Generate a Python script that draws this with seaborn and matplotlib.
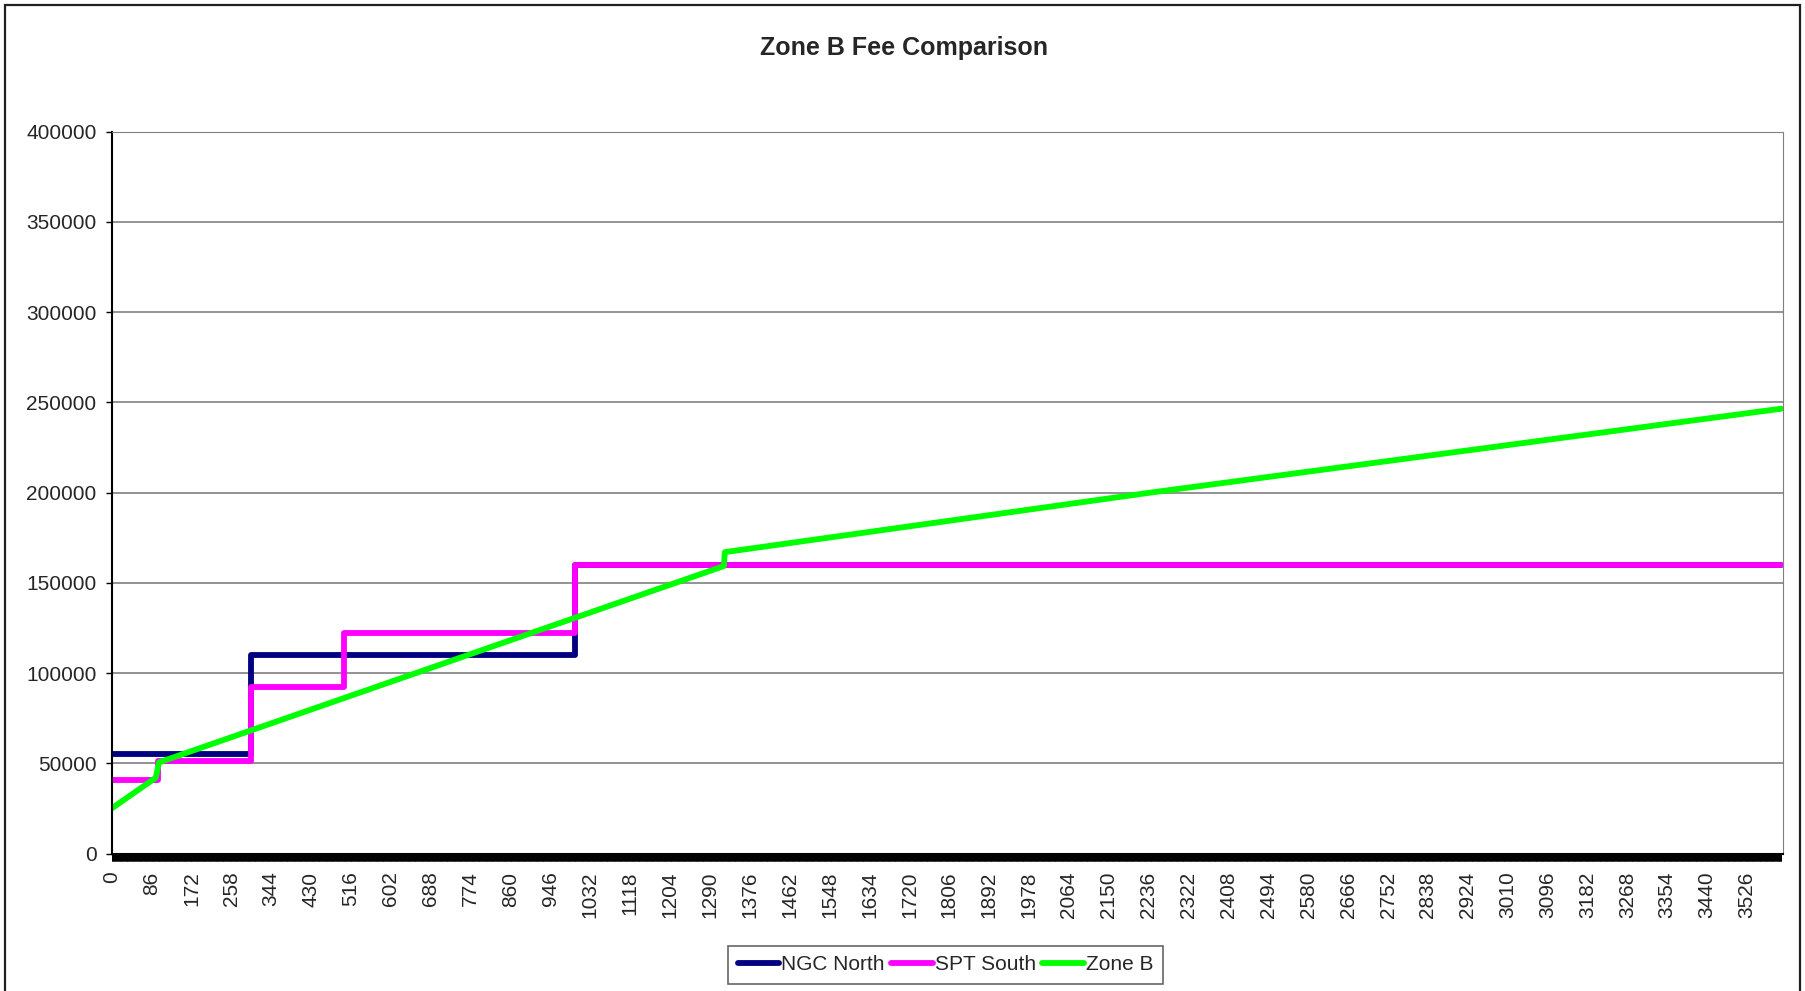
import numpy as np
import pandas as pd
import matplotlib
matplotlib.use('Agg')
import matplotlib.pyplot as plt
import matplotlib.ticker as mticker
from matplotlib.patches import Rectangle
import seaborn as sns

# Breakpoints (fee vs. size)
ngc_x = [0, 300, 1000, 3600]
ngc_y = [55000, 110000, 160000, 160000]

spt_x = [0, 100, 300, 500, 1000, 3600]
spt_y = [41000, 51000, 92000, 122000, 160000, 160000]

zone_x = [0, 95, 102, 1320, 1322, 2240, 3600]
zone_y = [25000, 42000, 50500, 159300, 167000, 200000, 246500]

x_labels = list(range(0, 3527, 86))
y_ticks = [0, 50000, 100000, 150000, 200000, 250000, 300000, 350000, 400000]

sns.set_style("white")
plt.rcParams['font.family'] = ['Liberation Sans', 'DejaVu Sans']

fig = plt.figure(figsize=(18.06, 9.91), dpi=100)
ax = fig.add_axes([111.7 / 1806, 1 - 853.5 / 991,
                   (1782.7 - 111.7) / 1806, (853.5 - 131.7) / 991])

ngc = pd.DataFrame({'x': ngc_x, 'y': ngc_y})
spt = pd.DataFrame({'x': spt_x, 'y': spt_y})
zone = pd.DataFrame({'x': zone_x, 'y': zone_y})

lw = 4.2
sns.lineplot(data=ngc, x='x', y='y', ax=ax, color='#000080', lw=lw,
             drawstyle='steps-post', estimator=None, label='NGC North')
sns.lineplot(data=spt, x='x', y='y', ax=ax, color='#FF00FF', lw=lw,
             drawstyle='steps-post', estimator=None, label='SPT South')
sns.lineplot(data=zone, x='x', y='y', ax=ax, color='#00FF00', lw=lw,
             estimator=None, label='Zone B')

ax.set_xlim(0, 3603)
ax.set_ylim(0, 400000)
ax.set_yticks(y_ticks)
ax.set_yticklabels([str(v) for v in y_ticks], fontsize=15)
ax.set_xticks(x_labels)
ax.set_xticklabels([str(v) for v in x_labels], rotation=90, fontsize=15)
ax.xaxis.set_minor_locator(mticker.FixedLocator(np.arange(0, 3601, 1)))
ax.tick_params(axis='x', which='both', direction='out', length=5, width=0.7,
               color='black', pad=8, bottom=True)
ax.tick_params(axis='y', which='major', direction='out', length=4, width=1,
               color='black', pad=7, left=True)
ax.set_xlabel('')
ax.set_ylabel('')

ax.grid(axis='y', color='#808080', lw=1.2)
ax.set_axisbelow(True)
for s in ['left', 'bottom']:
    ax.spines[s].set_color('black')
    ax.spines[s].set_linewidth(1.5)
ax.spines['right'].set_color('#808080')
ax.spines['top'].set_color('#808080')

handles, labels = ax.get_legend_handles_labels()
ax.get_legend().remove()
leg = fig.legend(handles, labels, loc='center', bbox_to_anchor=(945.5 / 1806, 1 - 964.7 / 991),
                 ncol=3, fontsize=15, frameon=True, fancybox=False, edgecolor='#404040',
                 handlelength=2.0, handletextpad=0.1, columnspacing=0.3, borderpad=0.45)
leg.get_frame().set_linewidth(1.2)

fig.text(904 / 1806, 1 - 48 / 991, 'Zone B Fee Comparison', ha='center', va='center',
         fontsize=18, fontweight='bold')

fig.patches.append(Rectangle((5 / 1806, -0.05), (1800 - 5) / 1806, 1.05 - 5 / 991,
                             transform=fig.transFigure, fill=False, edgecolor='#202020', lw=1.6))

fig.savefig('out.png', dpi=100, facecolor='white')
